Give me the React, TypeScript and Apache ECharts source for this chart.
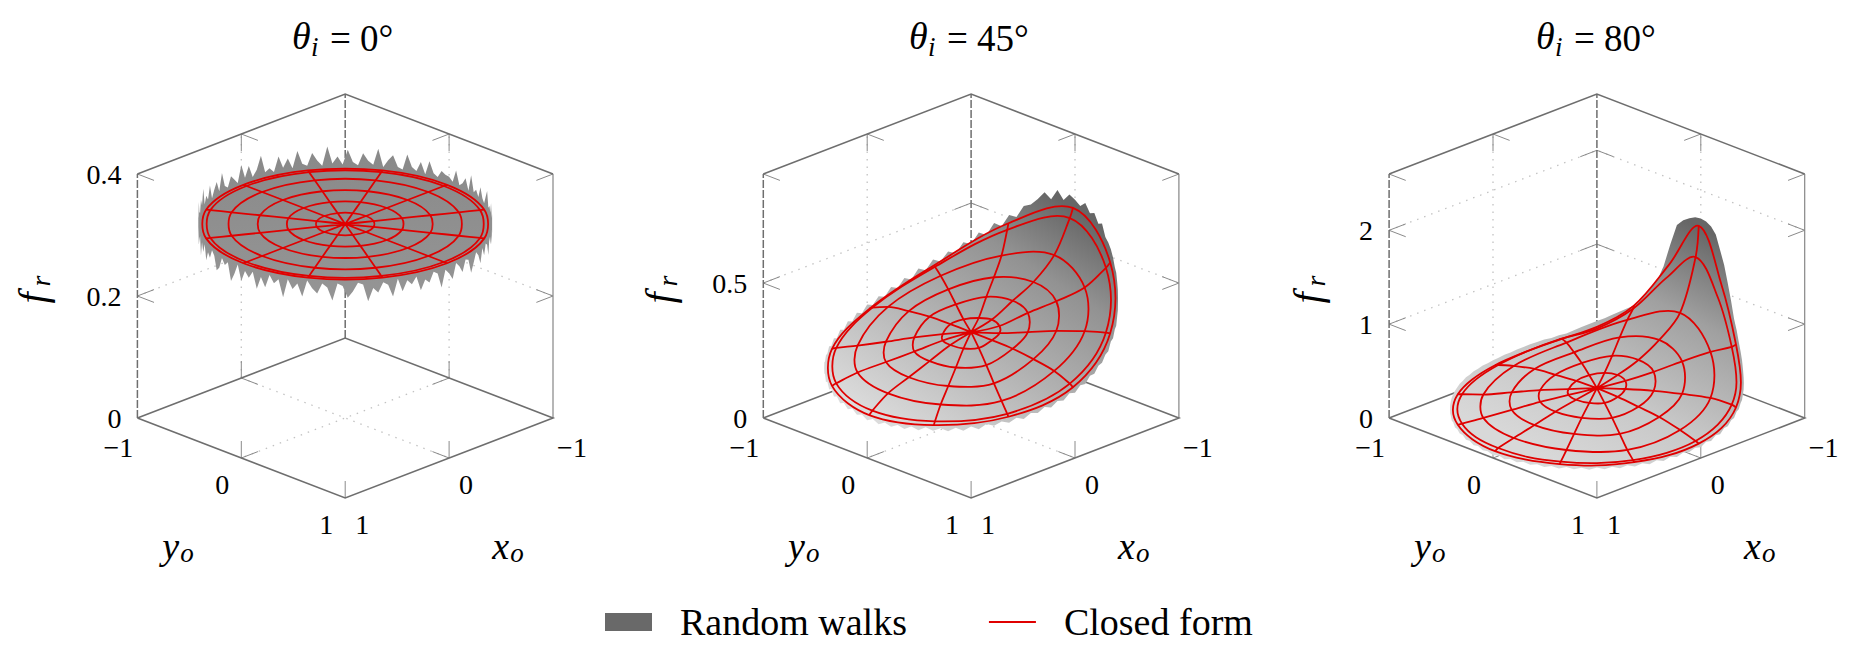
import { useEffect, useRef } from "react"
import * as echarts from "echarts"

const xTicks = [-1, 0, 1]
const yTicks = [-1, 0, 1]
const zMaxes = [0.4, 0.904, 2.6]
const zTicks = [[0, 0.2, 0.4], [0, 0.5], [0, 1, 2]]
const zTickText = [["0", "0.2", "0.4"], ["0", "0.5"], ["0", "1", "2"]]
const titles = ["0°", "45°", "80°"]
const centers = [345.2, 971.1, 1596.9]
const fLabelX = [38, 665, 1313]
const titleX = [292, 909, 1536]

const ringRadii = [0.2, 0.4, 0.6, 0.8, 0.95, 0.98]
const centerF = 0.318

// closed form f_r along each ring, from phi = 0 to 180 degrees (mirrored for the other half)
const rings45 = [
  [0.335, 0.33, 0.325, 0.318, 0.3, 0.298, 0.3],
  [0.375, 0.368, 0.34, 0.316, 0.277, 0.268, 0.27],
  [0.415, 0.4, 0.355, 0.307, 0.25, 0.24, 0.24],
  [0.485, 0.44, 0.365, 0.293, 0.225, 0.212, 0.21],
  [0.6, 0.505, 0.368, 0.268, 0.208, 0.18, 0.168],
  [0.633, 0.523, 0.367, 0.259, 0.203, 0.172, 0.156],
]
const rings80 = [
  [0.373, 0.365, 0.34, 0.31, 0.277, 0.277, 0.28],
  [0.448, 0.43, 0.352, 0.29, 0.235, 0.235, 0.238],
  [0.576, 0.51, 0.35, 0.267, 0.18, 0.18, 0.18],
  [0.78, 0.58, 0.338, 0.213, 0.125, 0.125, 0.128],
  [1.31, 1.0, 0.61, 0.38, 0.29, 0.215, 0.16, 0.125, 0.105, 0.092, 0.088, 0.082, 0.085],
  [1.63, 1.12, 0.63, 0.38, 0.265, 0.19, 0.145, 0.115, 0.1, 0.085, 0.08, 0.07, 0.064],
]
const rings0 = ringRadii.map(() => [0.318, 0.318, 0.318, 0.318, 0.318, 0.318, 0.318])

// random walk estimate along the rim: every 2 degrees at 0 deg, every 3 at 45 and 80
const walk0 = [
  0.33, 0.324, 0.345, 0.323, 0.329, 0.34, 0.322, 0.35, 0.325, 0.332, 0.323, 0.342, 0.327, 0.322, 0.336, 0.348, 0.324, 0.33, 0.322, 0.341, 0.326, 0.323, 0.334,
  0.304, 0.314, 0.293, 0.31, 0.299, 0.315, 0.288, 0.308, 0.313, 0.297, 0.312, 0.29, 0.306, 0.314, 0.3, 0.286, 0.31, 0.313, 0.295, 0.307,
  0.315, 0.291, 0.303, 0.311, 0.284, 0.309, 0.314, 0.298, 0.305, 0.289, 0.313, 0.302, 0.31, 0.293, 0.315, 0.287, 0.307, 0.312, 0.296, 0.304,
  0.283, 0.311, 0.314, 0.3, 0.29, 0.309, 0.313, 0.285, 0.306, 0.312, 0.295, 0.303, 0.315, 0.288, 0.308, 0.298, 0.313, 0.282, 0.31, 0.302,
  0.314, 0.292, 0.307, 0.286, 0.312, 0.3, 0.309, 0.29, 0.315, 0.297, 0.283, 0.311, 0.304, 0.313, 0.294, 0.287, 0.308, 0.314, 0.299, 0.305,
  0.289, 0.312, 0.296, 0.309, 0.284, 0.313, 0.303, 0.292, 0.31, 0.315,
  0.33, 0.323, 0.346, 0.326, 0.322, 0.34, 0.328, 0.352, 0.323, 0.334, 0.325, 0.345, 0.321, 0.332, 0.342, 0.324, 0.351, 0.327, 0.322, 0.338,
  0.33, 0.322, 0.349, 0.326, 0.343, 0.323, 0.333, 0.354, 0.325, 0.33, 0.322, 0.346, 0.326, 0.34, 0.323, 0.35, 0.328, 0.324, 0.344, 0.331,
  0.322, 0.353, 0.325, 0.336, 0.323, 0.347, 0.327, 0.322, 0.342, 0.33, 0.324, 0.351, 0.322, 0.334, 0.343, 0.325, 0.322, 0.348, 0.329, 0.324,
  0.34, 0.322, 0.345, 0.327, 0.323, 0.335, 0.331,
]
const walk45 = [
  0.66, 0.645, 0.665, 0.635, 0.645, 0.615, 0.625, 0.585, 0.575, 0.56, 0.54, 0.515, 0.505, 0.48, 0.465, 0.44,
  0.41, 0.4, 0.375, 0.372, 0.35, 0.348, 0.322, 0.32, 0.3, 0.298, 0.278, 0.28, 0.258, 0.262, 0.242, 0.247, 0.228, 0.233, 0.215, 0.222, 0.205, 0.21, 0.192, 0.2,
  0.185, 0.192, 0.178, 0.186, 0.168, 0.178, 0.162, 0.172, 0.158, 0.167, 0.155, 0.165, 0.15, 0.16, 0.146, 0.156, 0.143, 0.153, 0.14, 0.152,
  0.14, 0.153, 0.144, 0.158, 0.147, 0.16, 0.15, 0.165, 0.155, 0.172, 0.16, 0.178, 0.166, 0.186, 0.175,
  0.185, 0.196, 0.187, 0.2, 0.195, 0.212, 0.202, 0.22, 0.21, 0.232, 0.222, 0.244, 0.234, 0.258, 0.248,
  0.272, 0.263, 0.288, 0.28, 0.31, 0.3, 0.332, 0.322, 0.358, 0.348, 0.385, 0.375, 0.41, 0.402, 0.442,
  0.435, 0.478, 0.47, 0.515, 0.505, 0.55, 0.545, 0.59, 0.6, 0.625, 0.655, 0.635, 0.675, 0.645, 0.672,
]
const walk80 = [
  1.7, 1.69, 1.66, 1.6, 1.46, 1.33, 1.16, 1.0, 0.84, 0.75, 0.65, 0.58, 0.52, 0.45, 0.4, 0.37,
  0.335, 0.325, 0.285, 0.285, 0.25, 0.255, 0.215, 0.22, 0.185, 0.195, 0.155, 0.17, 0.135, 0.15, 0.115, 0.13, 0.105, 0.12, 0.09, 0.11, 0.08, 0.1, 0.07, 0.09,
  0.065, 0.085, 0.06, 0.08, 0.055, 0.075, 0.05, 0.07, 0.05, 0.068, 0.045, 0.062, 0.04, 0.058, 0.038, 0.055, 0.035, 0.052, 0.03, 0.05,
  0.03, 0.05, 0.035, 0.055, 0.038, 0.06, 0.042, 0.065, 0.05, 0.07, 0.055, 0.08, 0.065, 0.09, 0.08,
  0.1, 0.11, 0.115, 0.125, 0.125, 0.135, 0.14, 0.15, 0.15, 0.16, 0.16, 0.17, 0.17, 0.18, 0.18,
  0.19, 0.195, 0.205, 0.21, 0.225, 0.235, 0.25, 0.26, 0.275, 0.28, 0.3, 0.31, 0.34, 0.37, 0.4,
  0.43, 0.46, 0.5, 0.54, 0.58, 0.62, 0.68, 0.76, 0.9, 1.08, 1.33, 1.55, 1.62, 1.66, 1.69,
]

const ringTables = [rings0, rings45, rings80]
const walks = [walk0, walk45, walk80]

const GRAY = "#6e6e6e"
const RED = "#e00000"
const SERIF = "Liberation Serif"

type Pt = number[]

function makeProject(panel: number) {
  const cx = centers[panel]
  const k = 244 / zMaxes[panel]
  return (x: number, y: number, z: number): Pt => [cx + 103.9 * (y - x), 418 + 40 * (x + y) - k * z]
}

function fillFor(panel: number) {
  const cx = centers[panel]
  if (panel === 0) {
    return new echarts.graphic.LinearGradient(cx, 285, cx, 160, [
      { offset: 0, color: "#949494" },
      { offset: 1, color: "#8a8a8a" },
    ], true)
  }
  if (panel === 1) {
    return new echarts.graphic.LinearGradient(cx - 66, 440, cx + 89, 200, [
      { offset: 0, color: "#dcdcdc" },
      { offset: 0.44, color: "#b0b0b0" },
      { offset: 0.75, color: "#929292" },
      { offset: 1, color: "#666666" },
    ], true)
  }
  return new echarts.graphic.LinearGradient(cx - 27, 470, cx + 98, 225, [
    { offset: 0, color: "#d8d8d8" },
    { offset: 0.31, color: "#c8c8c8" },
    { offset: 0.69, color: "#a0a0a0" },
    { offset: 1, color: "#666666" },
  ], true)
}

// one custom series that draws a list of polylines or closed shapes
function curveSeries(name: string, curves: Pt[][], style: any, closed = false, smooth = 0, z = 2) {
  return {
    type: "custom",
    name,
    coordinateSystem: "cartesian2d",
    clip: false,
    silent: true,
    z,
    data: curves.map((_, i) => [i, 0]),
    renderItem: (params: any, api: any) => ({
      type: closed ? "polygon" : "polyline",
      shape: { points: curves[params.dataIndex].map((p) => api.coord(p)), smooth },
      style: { fill: "none", ...style },
    }),
  }
}

function frameSeries(panel: number) {
  const p = makeProject(panel)
  const zMax = zMaxes[panel]
  const up = (17 / 244) * zMax
  const t = 0.16
  const edges: Pt[][] = [
    [p(1, -1, zMax), p(-1, -1, zMax), p(-1, 1, zMax)],
    [p(1, -1, 0), p(1, 1, 0), p(-1, 1, 0), p(-1, -1, 0), p(1, -1, 0)],
  ]
  const dashed: Pt[][] = [
    [p(1, -1, 0), p(1, -1, zMax)],
    [p(-1, -1, 0), p(-1, -1, zMax)],
  ]
  const thin: Pt[][] = [[p(-1, 1, 0), p(-1, 1, zMax)]]
  const ticks: Pt[][] = [
    [p(1, -1, zMax), p(1, -1 + t, zMax)],
    [p(-1, 1, zMax), p(-1 + t, 1, zMax)],
    [p(1, 1, 0), p(1, 1, up)],
    [p(0, -1, zMax), p(0, -1 + t, zMax)],
    [p(-1, 0, zMax), p(-1 + t, 0, zMax)],
    [p(0, -1, zMax), p(0, -1, zMax - up)],
    [p(-1, 0, zMax), p(-1, 0, zMax - up)],
  ]
  const dotted: Pt[][] = []
  yTicks.filter((v) => v === 0).forEach((v) => {
    ticks.push([p(1, v, up), p(1, v, 0), p(1 - t, v, 0)])
    ticks.push([p(-1, v, up), p(-1, v, 0), p(-1 + t, v, 0)])
    dotted.push([p(-1, v, 0), p(-1, v, zMax)])
    dotted.push([p(-1, v, 0), p(1, v, 0)])
  })
  xTicks.filter((v) => v === 0).forEach((v) => {
    ticks.push([p(v, 1, up), p(v, 1, 0), p(v, 1 - t, 0)])
    ticks.push([p(v, -1, up), p(v, -1, 0), p(v, -1 + t, 0)])
    dotted.push([p(v, -1, 0), p(v, -1, zMax)])
    dotted.push([p(v, -1, 0), p(v, 1, 0)])
  })
  zTicks[panel].filter((v) => v > 0 && v < zMax).forEach((v) => {
    ticks.push([p(1 - t, -1, v), p(1, -1, v), p(1, -1 + t, v)])
    ticks.push([p(-1 + t, -1, v), p(-1, -1, v), p(-1, -1 + t, v)])
    ticks.push([p(-1, 1 - t, v), p(-1, 1, v), p(-1 + t, 1, v)])
    dotted.push([p(1, -1, v), p(-1, -1, v), p(-1, 1, v)])
  })
  return [
    curveSeries("frame dots", dotted, { stroke: "#c2c2c2", lineWidth: 1.3, lineDash: [1.5, 6] }, false, 0, 1),
    curveSeries("frame ticks", ticks, { stroke: "#8a8a8a", lineWidth: 1 }, false, 0, 1),
    curveSeries("frame thin", thin, { stroke: "#858585", lineWidth: 1.2 }, false, 0, 1),
    curveSeries("frame dashed", dashed, { stroke: GRAY, lineWidth: 1.5, lineDash: [8, 2] }, false, 0, 1),
    curveSeries("frame edges", edges, { stroke: GRAY, lineWidth: 1.6 }, false, 0, 1),
  ]
}

// value on a ring at phi degrees, rows hold 0..180 so the other half is read back mirrored
function ringValue(row: number[], deg: number) {
  const d = deg > 180 ? 360 - deg : deg
  return row[Math.round((d / 180) * (row.length - 1))]
}

function surfaceSeries(panel: number) {
  const p = makeProject(panel)
  const table = ringTables[panel]
  const at = (r: number, deg: number, f: number) => {
    const a = (deg * Math.PI) / 180
    return p(-r * Math.cos(a), r * Math.sin(a), f)
  }
  const ringCurves = table.map((row, i) => {
    const n = (row.length - 1) * 2
    const pts: Pt[] = []
    for (let j = 0; j < n; j++) {
      const deg = (j * 360) / n
      pts.push(at(ringRadii[i], deg, ringValue(row, deg)))
    }
    return pts
  })
  const walk = walks[panel]
  const walkCurve = walk.map((f, j) => at(1, (j * 360) / walk.length, f))
  const spokes: (Pt | string[])[] = []
  for (let deg = 0; deg < 360; deg += 30) {
    spokes.push(p(0, 0, centerF))
    table.forEach((row, i) => spokes.push(at(ringRadii[i], deg, ringValue(row, deg))))
    spokes.push(["-", "-"])
  }
  const fill = fillFor(panel)
  return [
    {
      type: "line",
      name: "Closed form",
      data: spokes,
      smooth: 0.35,
      symbol: "none",
      silent: true,
      clip: false,
      z: 5,
      lineStyle: { color: RED, width: 1.8 },
      itemStyle: { color: RED },
    },
    curveSeries("Random walks", [walkCurve], { fill }, true, 0, 3),
    curveSeries("Random walks", [ringCurves[ringCurves.length - 1]], { fill }, true, 0.35, 4),
    curveSeries("Closed form", ringCurves, { stroke: RED, lineWidth: 1.8 }, true, 0.35, 5),
  ]
}

function txt(x: number, y: number, text: string, size: number, align = "center", italic = false) {
  return {
    type: "text",
    x,
    y,
    silent: true,
    style: {
      text,
      fill: "#000",
      font: `${italic ? "italic " : ""}${size}px ${SERIF}`,
      align,
      verticalAlign: "middle",
    },
  }
}

function panelTexts(panel: number) {
  const p = makeProject(panel)
  const cx = centers[panel]
  const out: any[] = []
  const tx = titleX[panel]
  out.push(txt(tx, 36, "θ", 38, "left", true))
  out.push(txt(tx + 19, 47, "i", 27, "left", true))
  out.push(txt(tx + 38, 38, "= " + titles[panel], 37, "left"))
  zTicks[panel].forEach((v, i) => {
    const q = p(1, -1, v)
    out.push(txt(q[0] - 16, q[1], zTickText[panel][i], 28, "right"))
  })
  yTicks.forEach((v) => {
    const q = p(1, v, 0)
    out.push(txt(q[0] - 19, q[1] + (v === -1 ? 29 : 26), v < 0 ? "−1" : String(v), 28))
  })
  xTicks.forEach((v) => {
    const q = p(v, 1, 0)
    out.push(txt(q[0] + (v === -1 ? 19 : 17), q[1] + (v === -1 ? 29 : 26), v < 0 ? "−1" : String(v), 28))
  })
  out.push(txt(cx - 183, 546, "y", 38, "left", true))
  out.push(txt(cx - 165, 553, "o", 27, "left", true))
  out.push(txt(cx + 147, 546, "x", 38, "left", true))
  out.push(txt(cx + 165, 553, "o", 27, "left", true))
  out.push({
    type: "group",
    x: fLabelX[panel],
    y: 291,
    rotation: Math.PI / 2,
    children: [txt(-7, -6, "f", 40, "center", true), txt(10, 2, "r", 28, "center", true)],
  })
  return out
}

export default function App() {
  const chartRef = useRef<HTMLDivElement>(null)

  useEffect(() => {
    if (!chartRef.current) return
    const chart = echarts.init(chartRef.current, undefined, { renderer: "svg" })
    const panels = [0, 1, 2]
    const option: any = {
      animation: false,
      backgroundColor: "#fff",
      grid: { left: 0, right: 0, top: 0, bottom: 0 },
      xAxis: { type: "value", min: 0, max: 1865, show: false },
      yAxis: { type: "value", min: 0, max: 647, inverse: true, show: false },
      legend: {
        left: 600,
        top: 598,
        itemWidth: 47,
        itemHeight: 18,
        itemGap: 81,
        selectedMode: false,
        textStyle: { fontFamily: SERIF, fontSize: 38, color: "#000", padding: [24, 0, 0, 23] },
        data: [
          { name: "Random walks", icon: "rect", itemStyle: { color: "#696969" } },
          { name: "Closed form", itemStyle: { opacity: 0 } },
        ],
      },
      series: panels.flatMap((i) => [...frameSeries(i), ...surfaceSeries(i)]),
      graphic: { elements: panels.flatMap((i) => panelTexts(i)) },
    }
    chart.setOption(option)
    return () => chart.dispose()
  }, [])

  return <div ref={chartRef} style={{ position: "absolute", left: 0, top: 0, width: 1865, height: 647 }} />
}
